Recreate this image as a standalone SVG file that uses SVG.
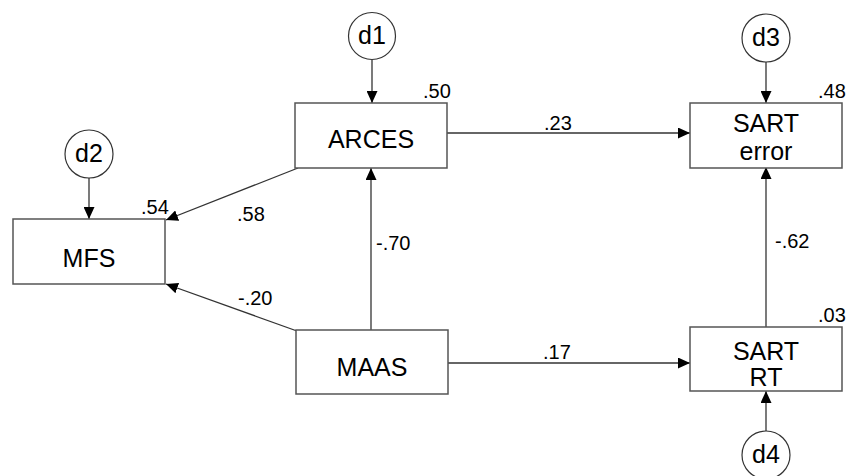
<svg xmlns="http://www.w3.org/2000/svg" width="849" height="476" viewBox="0 0 849 476">
<defs>
<marker id="ah" markerUnits="userSpaceOnUse" markerWidth="12" markerHeight="11" refX="12" refY="5.5" orient="auto">
<path d="M0,0 L12,5.5 L0,11 z" fill="#000"/>
</marker>
<style>
.box{fill:#fff;stroke:#555;stroke-width:1.5}
.err{fill:#fff;stroke:#333;stroke-width:1.2}
.lbl{font-family:"Liberation Sans",Arial,sans-serif;font-size:25px;fill:#000;text-anchor:middle}
.num{font-family:"Liberation Sans",Arial,sans-serif;font-size:20px;fill:#000}
.edge{stroke:#333;stroke-width:1.3;fill:none;marker-end:url(#ah)}
</style>
</defs>
<g id="connectors">
<line class="edge" x1="372" y1="60" x2="372" y2="103"/>
<line class="edge" x1="89" y1="178" x2="89" y2="219"/>
<line class="edge" x1="766" y1="62" x2="766" y2="103"/>
<line class="edge" x1="766" y1="431" x2="766" y2="391"/>
<line class="edge" x1="447" y1="133" x2="690" y2="133"/>
<line class="edge" x1="448" y1="363" x2="690" y2="363"/>
<line class="edge" x1="371" y1="330" x2="371" y2="168"/>
<line class="edge" x1="766" y1="327" x2="766" y2="167"/>
<line class="edge" x1="298" y1="168" x2="166" y2="220"/>
<line class="edge" x1="297" y1="331" x2="166" y2="284"/>
<text class="num" x="544" y="130">.23</text>
<text class="num" x="543" y="359">.17</text>
<text class="num" x="376" y="250">-.70</text>
<text class="num" x="775" y="248">-.62</text>
<text class="num" x="237" y="221">.58</text>
<text class="num" x="238" y="305">-.20</text>
</g>
<g id="d1"><circle class="err" cx="372" cy="36" r="23.5"/><text class="lbl" x="372" y="44">d1</text></g>
<g id="d2"><circle class="err" cx="89" cy="154" r="24"/><text class="lbl" x="89" y="162">d2</text></g>
<g id="d3"><circle class="err" cx="766" cy="38" r="24"/><text class="lbl" x="766" y="46">d3</text></g>
<g id="d4"><circle class="err" cx="766" cy="455" r="24"/><text class="lbl" x="766" y="463">d4</text></g>
<g id="ARCES"><rect class="box" x="295" y="103" width="152" height="65"/><text class="lbl" x="371" y="148">ARCES</text><text class="num" x="423" y="98">.50</text></g>
<g id="MFS"><rect class="box" x="13" y="219" width="152" height="65"/><text class="lbl" x="89" y="267">MFS</text><text class="num" x="141" y="214">.54</text></g>
<g id="MAAS"><rect class="box" x="296" y="330" width="152" height="64"/><text class="lbl" x="372" y="376">MAAS</text></g>
<g id="SART_error"><rect class="box" x="690" y="103" width="152" height="65"/><text class="lbl" x="766" y="132">SART</text><text class="lbl" x="766" y="160">error</text><text class="num" x="818" y="98">.48</text></g>
<g id="SART_RT"><rect class="box" x="690" y="327" width="152" height="64"/><text class="lbl" x="766" y="360">SART</text><text class="lbl" x="766" y="386">RT</text><text class="num" x="818" y="322">.03</text></g>
</svg>
